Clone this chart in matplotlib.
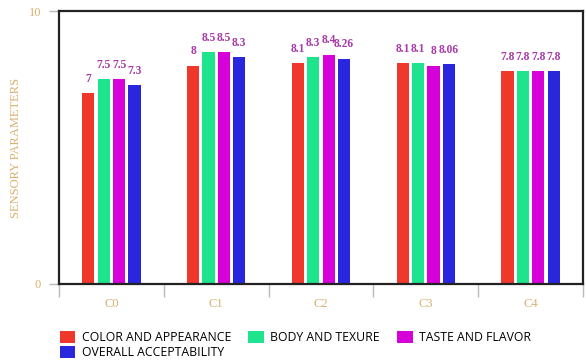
import numpy as np
from matplotlib import pyplot as plt

categories = ["C0", "C1", "C2", "C3", "C4"]
color_appearance = [7, 8, 8.1, 8.1, 7.8]
body_texture = [7.5, 8.5, 8.3, 8.1, 7.8]
taste_flavor = [7.5, 8.5, 8.4, 8, 7.8]
overall = [7.3, 8.3, 8.26, 8.06, 7.8]
series_names = ["COLOR AND APPEARANCE", "BODY AND TEXURE", "TASTE AND FLAVOR", "OVERALL ACCEPTABILITY"]
label_texts = [["7", "8", "8.1", "8.1", "7.8"],
               ["7.5", "8.5", "8.3", "8.1", "7.8"],
               ["7.5", "8.5", "8.4", "8", "7.8"],
               ["7.3", "8.3", "8.26", "8.06", "7.8"]]

colors = ["#f0372c", "#1fe48e", "#d600d8", "#2a26de"]
tan = "#d9b070"

fig = plt.figure(figsize=(5.86, 3.6), dpi=100)
ax = fig.add_axes([59 / 586, 76 / 360, 524 / 586, 273 / 360])

x = np.arange(len(categories))
pitch = 0.147
width = 0.115
all_series = [color_appearance, body_texture, taste_flavor, overall]
bar_sets = []
for i, vals in enumerate(all_series): # one set of bars per sensory parameter
    offs = (i - 1.5) * pitch
    bars = ax.bar(x + offs, vals, width, color=colors[i], label=series_names[i], zorder=2)
    bar_sets.append(bars)
    for xi, v, t in zip(x + offs, vals, label_texts[i]):
        ax.text(xi, v + 0.3, t, ha="center", va="bottom", fontsize=8.3, fontweight="bold",
                color="#a83aa8", family="Liberation Serif")

# axes look
ax.set_xlim(-0.5, 4.5)
ax.set_ylim(0, 10)
ax.set_yticks([0, 10])
ax.set_yticklabels(["0", "10"], family="Liberation Serif", fontsize=9, color=tan)
ax.set_xticks(x)
ax.set_xticklabels(categories, family="Liberation Serif", fontsize=9, color=tan)
ax.tick_params(axis="x", length=0, pad=10)
ax.set_xticks(np.arange(-0.5, 5, 1), minor=True)
ax.tick_params(axis="x", which="minor", length=9, color="#bbbbbb", width=1)
ax.tick_params(axis="y", length=7, color="#bbbbbb", width=1, pad=6)
for s in ax.spines.values():
    s.set_linewidth(1.6)
    s.set_color("#222222")
ax.set_ylabel("SENSORY PARAMETERS", family="Liberation Serif", fontsize=9, color=tan)
ax.yaxis.set_label_coords(-0.07, 0.5)

# legend fills column-wise, so reorder to get 3 items on row one and the last on row two
order = [0, 3, 1, 2]
fig.legend(handles=[bar_sets[k] for k in order], labels=[series_names[k] for k in order],
           loc="upper left", bbox_to_anchor=(51 / 586, 1 - 322 / 360),
           ncol=3, frameon=False, handlelength=1.3, handleheight=1.2, handletextpad=0.5,
           columnspacing=1.4, labelspacing=0.15, borderpad=0.2,
           prop={"family": "Open Sans", "size": 8.8})

plt.savefig("out.png", dpi=100)
